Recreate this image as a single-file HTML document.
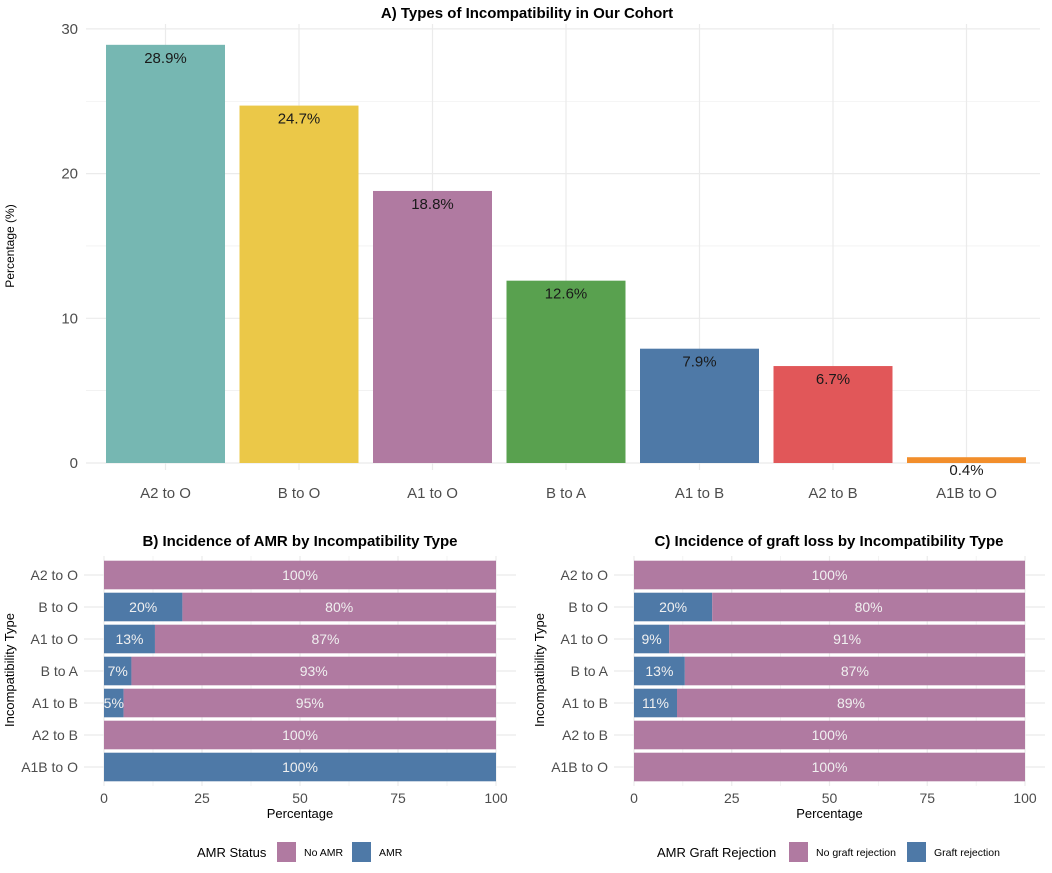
<!DOCTYPE html>
<html><head><meta charset="utf-8"><style>
body{margin:0;background:#fff;font-family:"Liberation Sans",sans-serif}
svg text{font-family:"Liberation Sans",sans-serif}
</style></head><body>
<svg id="c" width="1052" height="868" xmlns="http://www.w3.org/2000/svg"></svg>
<script>
const catsA=["A2 to O","B to O","A1 to O","B to A","A1 to B","A2 to B","A1B to O"];
const valsA=[28.9,24.7,18.8,12.6,7.9,6.7,0.4];
const colorsA=["#76b7b2","#ebc848","#b07aa1","#59a14f","#4e79a7","#e15759","#f28e2b"];
const ticksA=[0,10,20,30];
const catsB=["A2 to O","B to O","A1 to O","B to A","A1 to B","A2 to B","A1B to O"];
const amrB=[0,20,13,7,5,0,100];
const lossC=[0,20,9,13,11,0,0];
const ticksX=[0,25,50,75,100];
const PURPLE="#b07aa1",BLUE="#4e79a7",GRID="#ebebeb";
const svg=document.getElementById('c');
const NS="http://www.w3.org/2000/svg";
function el(tag,attrs,parent){const e=document.createElementNS(NS,tag);for(const k in attrs)e.setAttribute(k,attrs[k]);(parent||svg).appendChild(e);return e;}
function txt(s,attrs,parent){const e=el('text',attrs,parent);e.textContent=s;return e;}

// Panel A
const gA=el('g',{});


const yA=v=>463-v*14.47;
const xA=i=>165.5+i*133.5;
for(let v=5;v<=30;v+=10){el('line',{x1:86,x2:1040,y1:yA(v),y2:yA(v),stroke:GRID,'stroke-width':0.6},gA);}
ticksA.forEach(v=>{el('line',{x1:86,x2:1040,y1:yA(v),y2:yA(v),stroke:GRID,'stroke-width':1.2},gA);
 const t=txt(String(v),{x:78,y:yA(v)+5,'text-anchor':'end','font-size':15,fill:'#4d4d4d'},gA);
 });
catsA.forEach((c,i)=>{el('line',{x1:xA(i),x2:xA(i),y1:24,y2:470,stroke:GRID,'stroke-width':1.2},gA);});
catsA.forEach((c,i)=>{
 const r=el('rect',{x:xA(i)-59.5,y:yA(valsA[i]),width:119,height:yA(0)-yA(valsA[i]),fill:colorsA[i]},gA);
 
 
 const l=txt(valsA[i].toFixed(1)+'%',{x:xA(i),y:yA(valsA[i])+18,'text-anchor':'middle','font-size':15,fill:'#1a1a1a'},gA);
 
 const t=txt(c,{x:xA(i),y:498,'text-anchor':'middle','font-size':15,fill:'#4d4d4d'},gA);
 
});
const ta=txt('A) Types of Incompatibility in Our Cohort',{x:527,y:18,'text-anchor':'middle','font-size':15,'font-weight':'bold',fill:'#000'},gA);

const ya=txt('Percentage (%)',{x:0,y:0,transform:'translate(14,246) rotate(-90)','text-anchor':'middle','font-size':12,fill:'#000'},gA);


// stacked panels
function panel(name,x0,x100,labRight,titleX,title,vals,legendTitle,legItems,legX){
 const g=el('g',{});
 
 
 const sx=v=>x0+(x100-x0)*v/100;
 const yc=i=>575+i*32;
 for(let v=12.5;v<100;v+=25)el('line',{x1:sx(v),x2:sx(v),y1:556,y2:786,stroke:GRID,'stroke-width':0.6},g);
 ticksX.forEach(v=>el('line',{x1:sx(v),x2:sx(v),y1:556,y2:786,stroke:GRID,'stroke-width':1.2},g));
 catsB.forEach((c,i)=>{
  el('line',{x1:labRight+6,x2:x100+20,y1:yc(i),y2:yc(i),stroke:GRID,'stroke-width':1.2},g);
  const a=vals[i];
  if(a>0){const r=el('rect',{x:sx(0),y:yc(i)-14.3,width:sx(a)-sx(0),height:28.6,fill:BLUE},g);
   
   const l=txt(a+'%',{x:(sx(0)+sx(a))/2,y:yc(i)+5,'text-anchor':'middle','font-size':14,fill:'#f0f0f0'},g);
   }
  if(a<100){const r=el('rect',{x:sx(a),y:yc(i)-14.3,width:sx(100)-sx(a),height:28.6,fill:PURPLE},g);
   
   const l=txt((100-a)+'%',{x:(sx(a)+sx(100))/2,y:yc(i)+5,'text-anchor':'middle','font-size':14,fill:'#f0f0f0'},g);
   }
  const t=txt(c,{x:labRight,y:yc(i)+5,'text-anchor':'end','font-size':14,fill:'#4d4d4d'},g);
  
 });
 ticksX.forEach(v=>{const t=txt(String(v),{x:sx(v),y:803,'text-anchor':'middle','font-size':14,fill:'#4d4d4d'},g);
  });
 const xt=txt('Percentage',{x:sx(50),y:818,'text-anchor':'middle','font-size':13,fill:'#000'},g);
 
 const tt=txt(title,{x:titleX,y:546,'text-anchor':'middle','font-size':15,'font-weight':'bold',fill:'#000'},g);
 
 const yt=txt('Incompatibility Type',{x:0,y:0,transform:`translate(${x0-90},670) rotate(-90)`,'text-anchor':'middle','font-size':13,fill:'#000'},g);
 
 const lt=txt(legendTitle,{x:legX[0],y:857,'font-size':13,fill:'#000'},g);
 
 legItems.forEach((it,k)=>{
  const s=el('rect',{x:legX[1+k*2],y:842,width:19,height:20,fill:it[1]},g);
  
  const l=txt(it[0],{x:legX[2+k*2],y:856,'font-size':10.5,fill:'#000'},g);
  
 });
}
panel('panel-b',104,496,78,300,'B) Incidence of AMR by Incompatibility Type',amrB,'AMR Status',[['No AMR',PURPLE],['AMR',BLUE]],[197,277,304,352,379]);
panel('panel-c',634,1025,608,829,'C) Incidence  of graft loss by Incompatibility Type',lossC,'AMR Graft Rejection',[['No graft rejection',PURPLE],['Graft rejection',BLUE]],[657,789,816,907,934]);
</script>
</body></html>
